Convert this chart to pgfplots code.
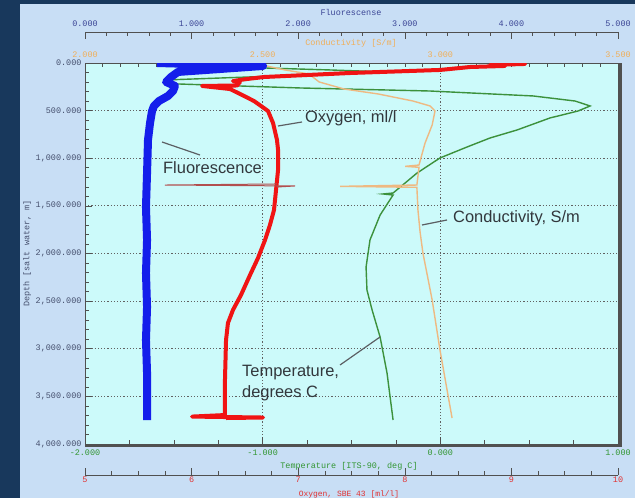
\documentclass[border=0pt]{standalone}
\usepackage{fontspec}
\setmainfont{Liberation Sans}
\newfontfamily\monofont{Liberation Mono}
\usepackage{pgfplots}
\pgfplotsset{compat=1.18}

\definecolor{navy}{RGB}{24,56,92}
\definecolor{panel}{RGB}{200,222,245}
\definecolor{plotbg}{RGB}{204,250,250}
\definecolor{fluorblue}{RGB}{20,30,235}
\definecolor{oxred}{RGB}{240,20,20}
\definecolor{tempgreen}{RGB}{60,145,60}
\definecolor{condtan}{RGB}{238,185,130}
\definecolor{axisgray}{RGB}{80,80,80}
\definecolor{labgray}{RGB}{70,80,110}
\definecolor{fluorlab}{RGB}{60,70,150}
\definecolor{condlab}{RGB}{240,175,90}
\definecolor{templab}{RGB}{50,150,50}
\definecolor{oxlab}{RGB}{225,50,50}
\definecolor{notegray}{RGB}{50,55,60}

\newcommand{\tl}{\monofont\fontsize{8.5}{9}\selectfont}

\pgfplotsset{
  base/.style={
    scale only axis, width=533bp, height=381bp,
    at={(85bp,-444bp)}, anchor=south west,
    ymin=0, ymax=4000, y dir=reverse,
    tick align=inside, major tick length=7bp, minor tick length=4bp,
    every tick/.style={axisgray, line width=0.6bp},
    axis line style={axisgray, line width=0.8bp},
    tick label style={font=\tl},
    xticklabel shift=2bp,
  },
  scale/.style={
    scale only axis, width=533bp, height=10bp,
    ymin=0, ymax=1, axis y line=none,
    tick align=inside, major tick length=7bp, minor tick length=4bp,
    every tick/.style={axisgray, line width=0.6bp},
    axis line style={axisgray, line width=0.8bp},
    tick label style={font=\tl},
    xticklabel shift=2bp,
  },
}

\begin{document}
\begin{tikzpicture}
\useasboundingbox (0,0) rectangle (635bp,-498bp);
\fill[navy] (0,0) rectangle (635bp,-498bp);
\fill[panel] (20bp,-4bp) rectangle (635bp,-498bp);

% temperature + depth frame
\begin{axis}[base, name=main,
  axis background/.style={fill=plotbg},
  xmin=-2, xmax=1,
  xtick={-2,-1,0,1}, xticklabels={-2.000,-1.000,0.000,1.000},
  minor x tick num=3,
  ytick={0,500,...,4000},
  yticklabels={0.000,500.000,{1,000.000},{1,500.000},{2,000.000},{2,500.000},{3,000.000},{3,500.000},{4,000.000}},
  minor y tick num=4,
  xtick pos=bottom, ytick pos=left,
  grid=major,
  major grid style={axisgray!90, line width=0.9bp, dash pattern=on 1.2bp off 2bp},
  x tick label style={text=templab},
  y tick label style={text=labgray},
  ylabel={Depth [salt water, m]},
  ylabel style={font=\tl, text=labgray, inner sep=1bp},
]
\addplot[tempgreen, line width=1.4bp] table {
-1.156 10
-0.992 52
-0.621 73
-0.294 94
-1.544 178
-1.522 199
-1.477 220
-0.790 262
-0.058 294
0.522 346
0.758 399
0.843 451
0.775 504
0.617 577
0.432 703
0.280 787
0.150 882
-0.002 997
-0.131 1155
-0.266 1365
-0.322 1375
-0.266 1386
-0.339 1596
-0.396 1858
-0.418 2142
-0.413 2383
-0.384 2593
-0.339 2877
-0.300 3255
-0.266 3748
};
\end{axis}

% conductivity
\begin{axis}[base,
  xmin=2, xmax=3.5,
  axis x line*=top, axis y line=none,
  xtick={2,2.5,3,3.5}, xticklabels={2.000,2.500,3.000,3.500},
  minor x tick num=9,
  x tick label style={text=condlab},
]
\addplot[condtan, line width=1.4bp] table {
2.498 21
2.563 73
2.630 115
2.659 199
2.729 273
2.825 325
2.923 399
2.971 451
2.985 504
2.977 651
2.957 840
2.940 1071
2.901 1085
2.940 1095
2.934 1281
2.718 1295
2.934 1305
2.937 1543
2.943 1774
2.951 1995
2.977 2488
2.999 3013
3.019 3433
3.033 3727
};
\end{axis}

% fluorescence data
\begin{axis}[base, hide axis, xmin=0, xmax=5]
\addplot[fluorblue, line width=8bp, line join=round] table {
0.675 0
1.670 31
0.872 94
0.807 147
0.760 199
0.844 241
0.826 294
0.779 346
0.694 399
0.647 451
0.629 504
0.610 630
0.591 808
0.582 1155
0.572 1512
0.582 1858
0.572 2205
0.582 2562
0.572 2908
0.582 3255
0.582 3748
};
\end{axis}

% oxygen data
\begin{axis}[base, hide axis, xmin=5, xmax=10]
\addplot[oxred, line width=4bp, line join=round] table {
8.893 0
9.128 10
8.799 21
8.940 31
8.612 42
8.330 73
7.486 105
6.679 147
6.520 168
6.388 189
6.454 199
6.426 236
6.098 241
6.360 273
6.492 346
6.585 399
6.651 451
6.717 504
6.764 630
6.801 808
6.811 913
6.811 1123
6.792 1333
6.773 1543
6.735 1701
6.689 1858
6.623 2047
6.548 2226
6.463 2436
6.388 2593
6.341 2730
6.323 2908
6.313 3328
6.313 3696
6.004 3712
6.670 3722
6.323 3727
};
\addplot[oxred!45!gray, line width=1bp] table {
6.801 1270
5.750 1281
6.970 1291
6.801 1302
};
\end{axis}

% fluorescence scale
\begin{axis}[scale, at={(85bp,-32bp)}, anchor=north west,
  xmin=0, xmax=5, axis x line*=top,
  xtick={0,1,2,3,4,5}, xticklabels={0.000,1.000,2.000,3.000,4.000,5.000},
  minor x tick num=4,
  x tick label style={text=fluorlab},
]
\end{axis}

% oxygen scale
\begin{axis}[scale, at={(85bp,-475bp)}, anchor=south west,
  xmin=5, xmax=10, axis x line*=bottom,
  xtick={5,6,7,8,9,10}, xticklabels={5,6,7,8,9,10},
  minor x tick num=3,
  xticklabel shift=0bp,
  x tick label style={text=oxlab, inner sep=1.5bp},
]
\end{axis}

% heavy frame edges
\draw[axisgray, line width=3bp] (85bp,-445.5bp) -- (620bp,-445.5bp) -- (620bp,-63bp);

% axis titles
\node[font=\tl, text=fluorlab] at (351bp,-12bp) {Fluorescense};
\node[font=\tl, text=condlab] at (351bp,-43bp) {Conductivity [S/m]};
\node[font=\tl, text=templab] at (349bp,-466bp) {Temperature [ITS-90, deg C]};
\node[font=\monofont\fontsize{8}{8}\selectfont, text=oxlab, inner sep=0pt] at (349bp,-494bp) {Oxygen, SBE 43 [ml/l]};

% annotations
\begin{scope}[every node/.style={font=\fontsize{16.5}{18}\selectfont, text=notegray, inner sep=0pt, anchor=west}]
\node at (305bp,-118bp) {Oxygen, ml/l};
\node at (163bp,-168bp) {Fluorescence};
\node at (453bp,-218bp) {Conductivity, S/m};
\node at (242bp,-373bp) {Temperature,};
\node at (242bp,-393bp) {degrees C};
\end{scope}
\begin{scope}[notegray!80, line width=1.2bp]
\draw (278bp,-126bp) -- (302bp,-122bp);
\draw (162bp,-142bp) -- (200bp,-155bp);
\draw (422bp,-225bp) -- (447bp,-220bp);
\draw (340bp,-365bp) -- (380bp,-337bp);
\end{scope}
\end{tikzpicture}
\end{document}
